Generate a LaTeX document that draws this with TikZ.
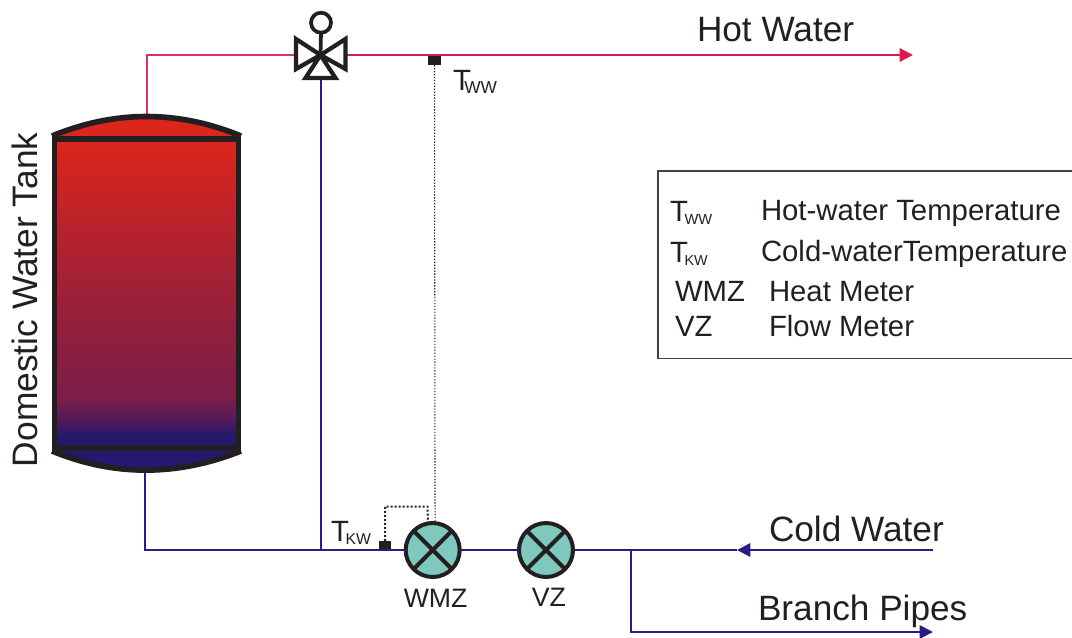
\documentclass[tikz,border=0pt]{standalone}
\usepackage{fontspec}
\setmainfont{Liberation Sans}
\usetikzlibrary{%
  positioning
 ,arrows.meta
 ,calc
}
\definecolor{hotred}{HTML}{DC1A4F}
\definecolor{coldblue}{HTML}{2E1A87}
\definecolor{darkink}{HTML}{231F20}
\definecolor{metergreen}{HTML}{7FC8C0}
\definecolor{tankred}{HTML}{DC251C}
\definecolor{tanknavy}{HTML}{26176F}
\pgfdeclareverticalshading{tankfade}{100bp}{%
  color(0bp)=(tanknavy); color(27bp)=(tanknavy); color(29.5bp)=(tankred!25!tanknavy);
  color(33bp)=(tankred!47!tanknavy); color(49bp)=(tankred!65!tanknavy);
  color(75bp)=(tankred); color(100bp)=(tankred)}
\tikzstyle{plan}=[x=0.75pt,y=-0.75pt,inner sep=0pt,outer sep=0pt,text=darkink]
\tikzstyle{txt}=[anchor=base west,font=\fontsize{26.4}{26}\selectfont]
\tikzstyle{legend}=[anchor=base west,font=\fontsize{22}{26}\selectfont]
\tikzstyle{small}=[anchor=base,font=\fontsize{20}{24}\selectfont]
\tikzstyle{hot}=[hotred,line width=1.9pt]
\tikzstyle{hotthin}=[hotred!90!white,line width=1.1pt]
\tikzstyle{cold}=[coldblue,line width=1.5pt]
\tikzstyle{meter}=[circle,draw=darkink,fill=metergreen,line width=3pt,minimum size=40.5pt]
\tikzstyle{sensor}=[rectangle,fill=darkink,minimum width=9.5pt,minimum height=7pt]
\tikzstyle{tip}=[-{Triangle[length=10pt,width=10pt]}]
\tikzstyle{wall}=[darkink,line width=4.2pt,line join=miter]
\newcommand{\subtxt}[3]{T\kern#1\raisebox{-2.5pt}{\fontsize{#2}{#2}\selectfont #3}}

\begin{document}
\begin{tikzpicture}[plan]
  \useasboundingbox (0,0) rectangle (1072,637);
  \coordinate (tank_top) at (147,114);
  \coordinate (tank_bot) at (145,472);
  \coordinate (v_c) at (320.5,55);
  \coordinate (v_l) at (294,55);
  \coordinate (v_r) at (347,55);
  \coordinate (v_b) at (320.5,80);
  \coordinate (hot_end) at (913,55);
  \coordinate (cold_start) at (933,550);
  \coordinate (cold_tip) at (737,550);
  \coordinate (branch_top) at (631,551);
  \coordinate (branch_end) at (933,632);
  \coordinate (dot_c) at (427.5,506.5);
  \node[sensor] (sens_ww) at (434.5,60.5) {};
  \node[sensor] (sens_kw) at (385,545.5) {};
  \node[meter]  (wmz) at (432.7,550) {};
  \node[meter]  (vz)  at (546,550) {};
%
  \draw[hotthin] (tank_top) |- (v_l);
  \draw[hot,tip] (v_r) -- (hot_end);
  \draw[cold] (v_b) -- (320.5,550);
  \draw[cold] (tank_bot) |- (wmz.west);
  \draw[cold] (wmz.east) -- (vz.west);
  \draw[cold] (vz.east) -- (cold_tip);
  \draw[coldblue,line width=1.9pt,{Triangle[length=10pt,width=10pt]}-] (cold_tip) -- (cold_start);
  \draw[cold,tip] (branch_top) |- (branch_end);
  \draw[darkink,line width=0.8pt,dash pattern=on 1pt off 1.2pt] (sens_ww.south) -- (wmz.85);
  \draw[darkink,line width=1.5pt,dash pattern=on 1.5pt off 1.5pt] (sens_kw.north) |- (dot_c) -- (wmz.100);
% tank
  \fill[tankred] (52,137) .. controls (115,110) and (178,110) .. (241,137) -- cycle;
  \fill[tanknavy] (52,449) .. controls (114,476) and (177,476) .. (241,449) -- cycle;
  \shade[shading=tankfade] (54,139) rectangle (238.5,448);
  \draw[wall] (54.5,448) -- (54.5,139) -- (238.5,139) -- (238.5,448) -- cycle;
  \draw[wall] (52,136) .. controls (115,110) and (178,110) .. (241,136);
  \draw[wall] (52,451) .. controls (114,476.5) and (177,476.5) .. (241,451);
% valve
  \draw[darkink,line width=3.2pt,line join=miter]
    (v_c) -- (296,39) -- (296,69) -- cycle
    (v_c) -- (345.5,39) -- (345.5,69) -- cycle
    (v_c) -- (305.5,78) -- (335.5,78) -- cycle;
  \draw[darkink,line width=2.8pt] (v_c) -- (321,32);
  \draw[darkink,line width=2.8pt] (321,22.7) circle (10);
% meters
  \foreach \m in {wmz,vz} {
    \draw[darkink,line width=3pt] (\m.45) -- (\m.225);
    \draw[darkink,line width=3pt] (\m.135) -- (\m.315);
  }
% labels
  \node[txt] (hot_lbl)    at (697,41)  {Hot Water};
  \node[txt] (cold_lbl)   at (769,541.5) {Cold Water};
  \node[txt] (branch_lbl) at (758,620) {Branch Pipes};
  \node[anchor=base west,rotate=90,font=\fontsize{26.5}{28}\selectfont] (tank_lbl) at (37.5,467) {Domestic Water Tank};
  \node[legend] (t_ww) at (453,90)    {\subtxt{-5pt}{13}{WW}};
  \node[legend] (t_kw) at (331,541.5) {\subtxt{-2.5pt}{11.8}{KW}};
  \node[small] (wmz_lbl) [below=43pt of wmz.center,anchor=base,xshift=2.2pt] {WMZ};
  \node[small] (vz_lbl)  [below=42.5pt of vz.center,anchor=base,xshift=2.2pt] {VZ};
% legend
  \draw[darkink!85,line width=0.8pt] (1072,171) -- (658,171) -- (658,358.5) -- (1072,358.5);
  \node[legend] (key_ww)  at (670,221.5) {\subtxt{-2.5pt}{11}{WW}};
  \node[legend] (key_kw)  at (670,262)   {\subtxt{-2.5pt}{10.8}{KW}};
  \node[legend] (key_wmz) at (675,301.5) {WMZ};
  \node[legend] (key_vz)  at (675,336.5) {VZ};
  \node[legend] (txt_ww)  at (761,220.5) {Hot-water Temperature};
  \node[legend] (txt_kw)  at (761,261)   {Cold-waterTemperature};
  \node[legend] (txt_wmz) at (769,301.5) {Heat Meter};
  \node[legend] (txt_vz)  at (769,336.5) {Flow Meter};
\end{tikzpicture}
\end{document}
